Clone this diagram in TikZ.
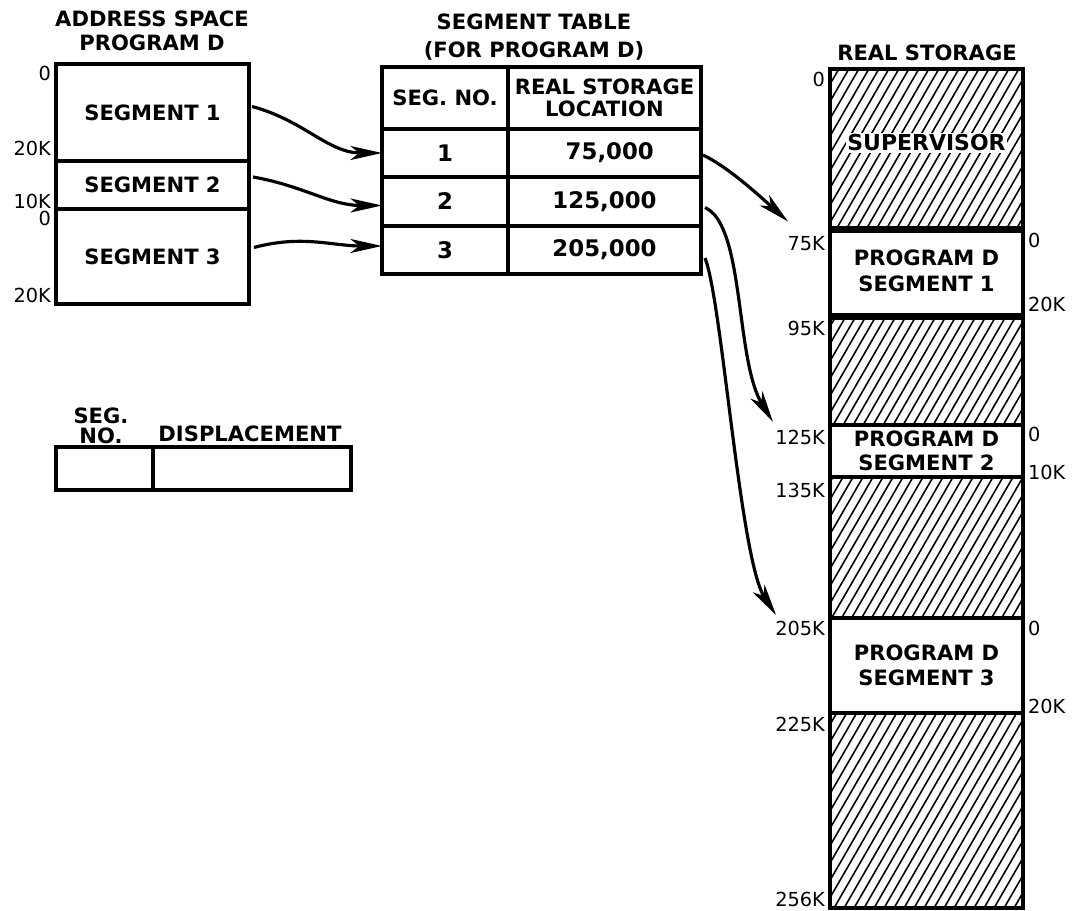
\documentclass[tikz,border=0pt]{standalone}
\usepackage{fontspec}
\setmainfont{DejaVu Sans}
\usetikzlibrary{arrows.meta,calc,positioning}

\tikzset{
  cell/.style={draw, line width=2pt, inner sep=0pt, outer sep=0pt, align=center,
    font=\bfseries\fontsize{12}{14}\selectfont},
  num/.style={cell, font=\bfseries\fontsize{13}{15}\selectfont},
  head/.style={align=center, inner sep=1pt, font=\bfseries\fontsize{12}{13.6}\selectfont},
  tick/.style={inner sep=1pt, font=\fontsize{11}{12}\selectfont},
  link/.style={line width=1.8pt, -{Stealth[length=18pt,width=8pt,inset=5pt]}},
  hatch/.style={line width=0.9pt},
}

\begin{document}
\begin{tikzpicture}[x=0.02cm, y=-0.02cm]
  \useasboundingbox (0,0) rectangle (1072,911);

  % Address space of program D
  \node[head] (astitle) at (152,31) {ADDRESS SPACE\\PROGRAM D};
  \node[cell, minimum width=3.86cm, minimum height=1.94cm] (seg1) at (152.5,112.5) {SEGMENT 1};
  \node[cell, minimum width=3.86cm, minimum height=0.96cm] (seg2) at (152.5,185) {SEGMENT 2};
  \node[cell, minimum width=3.86cm, minimum height=1.90cm] (seg3) at (152.5,256.5) {SEGMENT 3};
  \foreach \y/\t [count=\i] in {73/0, 148/20K, 201/10K, 218/0, 295/20K}
    \node[tick, anchor=east] (al\i) at (53,\y) {\t};

  % Segment table
  \node[head, font=\bfseries\fontsize{12}{15.6}\selectfont] (sttitle) at (534,37) {SEGMENT TABLE\\(FOR PROGRAM D)};
  \node[cell, minimum width=2.52cm, minimum height=1.24cm] (hno) at (445,98) {SEG. NO.};
  \node[cell, minimum width=3.86cm, minimum height=1.24cm,
        font=\bfseries\fontsize{12}{12.5}\selectfont] (hloc) at (604.5,98) {REAL STORAGE\\LOCATION};
  \node[num, minimum width=2.52cm, minimum height=0.96cm] (n1) at (445,153) {1};
  \node[num, minimum width=3.86cm, minimum height=0.96cm] (v1) at (604.5,153) {\hspace{6pt}75,000};
  \node[num, minimum width=2.52cm, minimum height=0.98cm] (n2) at (445,201.5) {2};
  \node[num, minimum width=3.86cm, minimum height=0.98cm] (v2) at (604.5,201.5) {125,000};
  \node[num, minimum width=2.52cm, minimum height=0.96cm] (n3) at (445,250) {3};
  \node[num, minimum width=3.86cm, minimum height=0.96cm] (v3) at (604.5,250) {205,000};

  % Real storage
  \node[head] (rstitle) at (927,53) {REAL STORAGE};
  \node[cell, minimum width=3.86cm, minimum height=3.24cm] (sup) at (926.5,150) {};
  \node[cell, minimum width=3.86cm, minimum height=1.74cm,
        font=\bfseries\fontsize{12}{15}\selectfont] (p1) at (926.5,271) {PROGRAM D\\SEGMENT 1};
  \node[cell, minimum width=3.86cm, minimum height=2.14cm] (free1) at (926.5,371.5) {};
  \node[cell, minimum width=3.86cm, minimum height=1.04cm,
        font=\bfseries\fontsize{12}{13.6}\selectfont] (p2) at (926.5,451) {PROGRAM D\\SEGMENT 2};
  \node[cell, minimum width=3.86cm, minimum height=2.82cm] (free2) at (926.5,547.5) {};
  \node[cell, minimum width=3.86cm, minimum height=1.90cm,
        font=\bfseries\fontsize{12}{14.6}\selectfont] (p3) at (926.5,665.5) {PROGRAM D\\SEGMENT 3};
  \node[cell, minimum width=3.86cm, minimum height=3.90cm] (free3) at (926.5,810.5) {};

  % Hatched (unused) areas
  \begin{scope}
    \clip (sup.north west) rectangle (sup.south east)
          (free1.north west) rectangle (free1.south east)
          (free2.north west) rectangle (free2.south east)
          (free3.north west) rectangle (free3.south east);
    \foreach \x in {300,310,...,1030}
      \draw[hatch] (\x,915) -- ++(520,-900);
  \end{scope}
  \node[head, fill=white, font=\bfseries\fontsize{12.5}{14}\selectfont] (suptext) at (926.5,143) {SUPERVISOR};

  \foreach \y/\t [count=\i] in {79/0, 244/75K, 328/95K, 437/125K, 490/135K, 628/205K, 724/225K, 899/256K}
    \node[tick, anchor=east] (rl\i) at (827,\y) {\t};
  \foreach \y/\t [count=\i] in {240/0, 304/20K, 434/0, 472/10K, 628/0, 706/20K}
    \node[tick, anchor=west] (rr\i) at (1026,\y) {\t};

  % Address format
  \node[head, font=\bfseries\fontsize{12}{11.5}\selectfont] (segno) at (101,426) {SEG.\\NO.};
  \node[head] (disp) at (250,434) {DISPLACEMENT};
  \node[cell, minimum width=1.94cm, minimum height=0.86cm] (fseg) at (104.5,468.5) {};
  \node[cell, minimum width=3.96cm, minimum height=0.86cm] (fdisp) at (252,468.5) {};

  % Segments to table entries
  \draw[link] ($(seg1.east)+(3,-6)$) to[out=-15,in=180] (n1.west);
  \draw[link] ($(seg2.east)+(4,-8)$) to[out=-10,in=180] ($(n2.west)+(0,4)$);
  \draw[link] ($(seg3.east)+(5,-9)$) to[out=15,in=180] ($(n3.west)+(0,-4)$);

  % Table entries to real storage
  \draw[link] ($(v1.east)+(2,2)$) .. controls +(25,12) and +(-30,-27) .. ($(p1.north west)+(-42,-6)$);
  \draw[link] ($(v2.east)+(4,6)$) .. controls +(40,18) and +(-38,-62) .. ($(p2.north west)+(-57,-3)$);
  \draw[link] ($(v3.east)+(4,8)$) .. controls +(17,42) and +(-36,-55) .. ($(p3.north west)+(-54,-3)$);

\end{tikzpicture}
\end{document}
